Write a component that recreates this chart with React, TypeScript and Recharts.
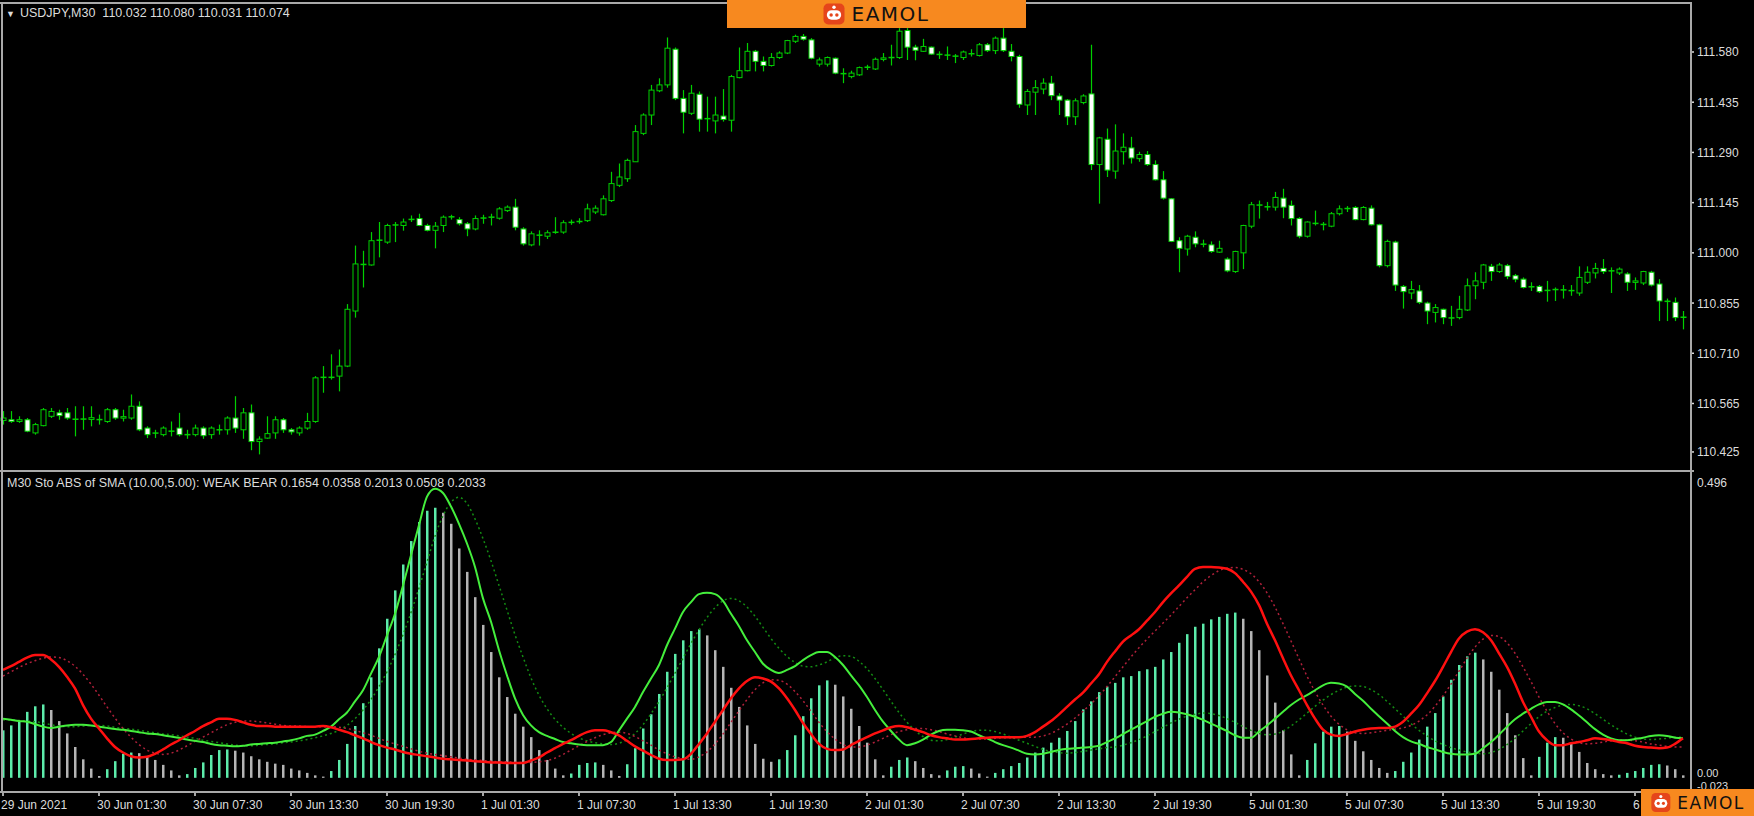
import { Bar, Cell, ComposedChart, Line, XAxis, YAxis } from 'recharts'

// USDJPY M30 candles, [open, high, low, close]
const OHLC: [number, number, number, number][] = [
  [110.516, 110.543, 110.504, 110.523], [110.518, 110.543, 110.509, 110.513], [110.513, 110.528, 110.509, 110.518], [110.518, 110.523, 110.482, 110.485],
  [110.480, 110.509, 110.475, 110.504], [110.501, 110.552, 110.499, 110.547], [110.528, 110.552, 110.523, 110.542], [110.538, 110.547, 110.518, 110.530],
  [110.538, 110.552, 110.518, 110.523], [110.518, 110.557, 110.470, 110.521], [110.521, 110.557, 110.489, 110.519], [110.519, 110.557, 110.499, 110.524],
  [110.520, 110.533, 110.504, 110.517], [110.513, 110.552, 110.509, 110.547], [110.547, 110.552, 110.518, 110.523], [110.523, 110.547, 110.513, 110.527],
  [110.523, 110.591, 110.518, 110.557], [110.557, 110.571, 110.485, 110.489], [110.494, 110.499, 110.465, 110.475], [110.478, 110.489, 110.465, 110.481],
  [110.475, 110.499, 110.470, 110.494], [110.486, 110.513, 110.470, 110.484], [110.494, 110.538, 110.470, 110.475], [110.474, 110.489, 110.463, 110.476],
  [110.475, 110.504, 110.470, 110.494], [110.494, 110.499, 110.463, 110.472], [110.475, 110.499, 110.463, 110.494], [110.490, 110.504, 110.475, 110.488],
  [110.489, 110.528, 110.475, 110.523], [110.523, 110.586, 110.480, 110.494], [110.489, 110.552, 110.463, 110.538], [110.538, 110.562, 110.430, 110.455],
  [110.455, 110.470, 110.418, 110.462], [110.465, 110.528, 110.463, 110.478], [110.480, 110.528, 110.463, 110.518], [110.518, 110.523, 110.480, 110.489],
  [110.489, 110.494, 110.475, 110.483], [110.480, 110.499, 110.472, 110.494], [110.494, 110.538, 110.489, 110.513], [110.513, 110.644, 110.509, 110.639],
  [110.639, 110.673, 110.596, 110.642], [110.642, 110.707, 110.634, 110.639], [110.644, 110.721, 110.600, 110.673], [110.673, 110.852, 110.670, 110.837],
  [110.832, 111.021, 110.813, 110.968], [110.968, 111.006, 110.900, 110.965], [110.965, 111.060, 110.963, 111.035], [111.035, 111.089, 110.987, 111.038],
  [111.031, 111.084, 111.026, 111.079], [111.079, 111.089, 111.031, 111.082], [111.079, 111.099, 111.064, 111.089], [111.095, 111.108, 111.089, 111.098],
  [111.099, 111.113, 111.077, 111.079], [111.079, 111.084, 111.062, 111.065], [111.065, 111.089, 111.013, 111.077], [111.079, 111.108, 111.060, 111.103],
  [111.103, 111.110, 111.096, 111.105], [111.096, 111.103, 111.079, 111.084], [111.084, 111.089, 111.048, 111.069], [111.069, 111.108, 111.065, 111.099],
  [111.099, 111.110, 111.084, 111.102], [111.102, 111.113, 111.079, 111.104], [111.100, 111.132, 111.096, 111.127], [111.122, 111.137, 111.118, 111.132],
  [111.132, 111.156, 111.065, 111.074], [111.069, 111.074, 111.021, 111.026], [111.023, 111.062, 111.019, 111.055], [111.052, 111.065, 111.021, 111.050],
  [111.048, 111.065, 111.040, 111.058], [111.058, 111.103, 111.055, 111.061], [111.060, 111.094, 111.055, 111.087], [111.087, 111.096, 111.081, 111.089],
  [111.089, 111.100, 111.084, 111.092], [111.093, 111.142, 111.089, 111.127], [111.118, 111.137, 111.112, 111.129], [111.110, 111.166, 111.108, 111.156],
  [111.151, 111.234, 111.147, 111.200], [111.195, 111.258, 111.190, 111.219], [111.214, 111.272, 111.205, 111.267], [111.263, 111.369, 111.263, 111.350],
  [111.345, 111.403, 111.340, 111.398], [111.398, 111.485, 111.369, 111.470], [111.468, 111.504, 111.464, 111.485], [111.485, 111.622, 111.477, 111.591],
  [111.588, 111.593, 111.441, 111.446], [111.446, 111.470, 111.345, 111.406], [111.403, 111.485, 111.398, 111.461], [111.458, 111.466, 111.350, 111.386],
  [111.386, 111.451, 111.350, 111.389], [111.381, 111.451, 111.345, 111.398], [111.395, 111.473, 111.379, 111.385], [111.383, 111.514, 111.350, 111.509],
  [111.506, 111.593, 111.504, 111.526], [111.526, 111.606, 111.524, 111.582], [111.582, 111.586, 111.524, 111.553], [111.553, 111.567, 111.524, 111.541],
  [111.541, 111.577, 111.538, 111.564], [111.564, 111.582, 111.560, 111.577], [111.577, 111.615, 111.574, 111.613], [111.611, 111.630, 111.606, 111.625],
  [111.625, 111.632, 111.613, 111.617], [111.615, 111.620, 111.559, 111.562], [111.545, 111.564, 111.538, 111.557], [111.545, 111.567, 111.538, 111.564],
  [111.562, 111.564, 111.516, 111.519], [111.519, 111.533, 111.490, 111.516], [111.509, 111.526, 111.504, 111.519], [111.514, 111.538, 111.511, 111.535],
  [111.535, 111.543, 111.528, 111.537], [111.531, 111.564, 111.528, 111.559], [111.559, 111.577, 111.553, 111.563], [111.563, 111.601, 111.541, 111.565],
  [111.564, 111.649, 111.560, 111.640], [111.642, 111.649, 111.557, 111.594], [111.594, 111.601, 111.556, 111.585], [111.582, 111.618, 111.580, 111.596],
  [111.594, 111.596, 111.572, 111.574], [111.574, 111.582, 111.560, 111.572], [111.572, 111.596, 111.557, 111.570], [111.569, 111.574, 111.548, 111.567],
  [111.564, 111.584, 111.557, 111.580], [111.576, 111.588, 111.567, 111.574], [111.570, 111.606, 111.567, 111.601], [111.601, 111.606, 111.580, 111.584],
  [111.584, 111.625, 111.574, 111.620], [111.620, 111.649, 111.580, 111.584], [111.582, 111.603, 111.553, 111.567], [111.567, 111.572, 111.419, 111.429],
  [111.427, 111.473, 111.398, 111.466], [111.464, 111.499, 111.398, 111.477], [111.473, 111.504, 111.458, 111.490], [111.490, 111.511, 111.441, 111.454],
  [111.453, 111.461, 111.398, 111.441], [111.441, 111.444, 111.369, 111.393], [111.393, 111.446, 111.369, 111.439], [111.434, 111.458, 111.429, 111.453],
  [111.459, 111.601, 111.239, 111.255], [111.255, 111.335, 111.142, 111.332], [111.328, 111.359, 111.219, 111.239], [111.236, 111.371, 111.214, 111.294],
  [111.292, 111.345, 111.255, 111.305], [111.303, 111.335, 111.258, 111.274], [111.272, 111.292, 111.263, 111.284], [111.284, 111.294, 111.251, 111.255],
  [111.255, 111.267, 111.209, 111.211], [111.211, 111.236, 111.154, 111.158], [111.156, 111.158, 111.031, 111.033], [111.035, 111.045, 110.944, 111.013],
  [111.011, 111.052, 110.992, 111.048], [111.045, 111.062, 111.016, 111.026], [111.026, 111.038, 111.016, 111.024], [111.023, 111.033, 111.000, 111.004],
  [111.002, 111.035, 111.000, 111.013], [110.982, 110.987, 110.944, 110.948], [110.946, 111.006, 110.942, 111.004], [111.000, 111.081, 110.953, 111.079],
  [111.077, 111.147, 111.071, 111.139], [111.139, 111.151, 111.099, 111.137], [111.134, 111.147, 111.122, 111.132], [111.132, 111.176, 111.122, 111.160],
  [111.158, 111.185, 111.100, 111.132], [111.137, 111.151, 111.079, 111.099], [111.099, 111.103, 111.042, 111.048], [111.048, 111.091, 111.044, 111.089],
  [111.086, 111.122, 111.079, 111.084], [111.083, 111.089, 111.065, 111.081], [111.077, 111.118, 111.074, 111.113], [111.113, 111.137, 111.108, 111.127],
  [111.127, 111.135, 111.118, 111.129], [111.131, 111.135, 111.094, 111.096], [111.096, 111.135, 111.094, 111.131], [111.129, 111.137, 111.079, 111.081],
  [111.081, 111.084, 110.958, 110.963], [110.963, 111.038, 110.958, 111.033], [111.031, 111.035, 110.890, 110.907], [110.903, 110.907, 110.839, 110.888],
  [110.884, 110.919, 110.866, 110.894], [110.890, 110.907, 110.852, 110.857], [110.855, 110.859, 110.794, 110.832], [110.828, 110.852, 110.799, 110.842],
  [110.837, 110.839, 110.794, 110.813], [110.813, 110.847, 110.789, 110.811], [110.813, 110.876, 110.808, 110.837], [110.835, 110.926, 110.832, 110.905],
  [110.905, 110.944, 110.866, 110.919], [110.915, 110.968, 110.895, 110.965], [110.961, 110.968, 110.919, 110.946], [110.946, 110.971, 110.942, 110.965],
  [110.963, 110.968, 110.924, 110.932], [110.934, 110.939, 110.915, 110.924], [110.924, 110.929, 110.897, 110.900], [110.901, 110.915, 110.890, 110.903],
  [110.903, 110.907, 110.884, 110.888], [110.890, 110.919, 110.859, 110.893], [110.893, 110.900, 110.861, 110.895], [110.894, 110.907, 110.868, 110.892],
  [110.892, 110.907, 110.876, 110.890], [110.884, 110.961, 110.876, 110.929], [110.915, 110.961, 110.910, 110.944], [110.942, 110.971, 110.926, 110.955],
  [110.955, 110.982, 110.939, 110.946], [110.947, 110.958, 110.884, 110.949], [110.942, 110.958, 110.936, 110.953], [110.939, 110.944, 110.890, 110.915],
  [110.915, 110.929, 110.893, 110.919], [110.913, 110.948, 110.907, 110.946], [110.944, 110.948, 110.903, 110.907], [110.910, 110.924, 110.803, 110.861],
  [110.861, 110.868, 110.803, 110.859], [110.857, 110.871, 110.803, 110.813], [110.813, 110.832, 110.779, 110.815],
]

// Sto ABS of SMA indicator
const HIST = [
  0.077, 0.085, 0.091, 0.107, 0.116, 0.119, 0.110, 0.092, 0.072, 0.050,
  0.030, 0.015, 0.003, 0.014, 0.027, 0.039, 0.041, 0.040, 0.035, 0.029,
  0.021, 0.012, 0.004, 0.006, 0.016, 0.025, 0.037, 0.045, 0.046, 0.044,
  0.041, 0.035, 0.030, 0.026, 0.023, 0.021, 0.015, 0.012, 0.008, 0.004,
  0.002, 0.011, 0.029, 0.055, 0.084, 0.121, 0.163, 0.210, 0.258, 0.304,
  0.346, 0.384, 0.415, 0.433, 0.438, 0.430, 0.412, 0.372, 0.334, 0.293,
  0.248, 0.204, 0.163, 0.131, 0.104, 0.083, 0.066, 0.045, 0.029, 0.015,
  0.004, 0.007, 0.021, 0.024, 0.025, 0.021, 0.012, 0.003, 0.022, 0.048,
  0.080, 0.103, 0.136, 0.172, 0.201, 0.223, 0.238, 0.241, 0.231, 0.207,
  0.180, 0.146, 0.115, 0.085, 0.055, 0.031, 0.026, 0.030, 0.045, 0.069,
  0.100, 0.129, 0.150, 0.158, 0.151, 0.132, 0.112, 0.084, 0.057, 0.030,
  0.004, 0.018, 0.029, 0.033, 0.027, 0.016, 0.006, 0.004, 0.012, 0.018,
  0.019, 0.015, 0.007, 0.002, 0.008, 0.014, 0.019, 0.024, 0.033, 0.041,
  0.049, 0.057, 0.065, 0.076, 0.092, 0.111, 0.124, 0.139, 0.148, 0.154,
  0.163, 0.165, 0.173, 0.176, 0.180, 0.192, 0.204, 0.219, 0.233, 0.245,
  0.250, 0.257, 0.261, 0.266, 0.268, 0.258, 0.238, 0.207, 0.166, 0.122,
  0.077, 0.038, 0.004, 0.029, 0.056, 0.075, 0.083, 0.084, 0.075, 0.060,
  0.043, 0.029, 0.016, 0.008, 0.011, 0.026, 0.041, 0.062, 0.083, 0.105,
  0.132, 0.159, 0.183, 0.197, 0.203, 0.192, 0.172, 0.143, 0.105, 0.069,
  0.032, 0.004, 0.034, 0.057, 0.066, 0.065, 0.057, 0.042, 0.024, 0.014,
  0.006, 0.004, 0.005, 0.008, 0.011, 0.016, 0.021, 0.022, 0.020, 0.014,
  0.004,
]

const BULL_LINE = [
  0.096, 0.094, 0.092, 0.091, 0.087, 0.083, 0.081, 0.083, 0.085, 0.086,
  0.086, 0.085, 0.083, 0.081, 0.079, 0.078, 0.076, 0.074, 0.072, 0.071,
  0.069, 0.067, 0.065, 0.062, 0.060, 0.058, 0.055, 0.053, 0.052, 0.051,
  0.052, 0.054, 0.055, 0.056, 0.057, 0.059, 0.061, 0.064, 0.068, 0.070,
  0.076, 0.083, 0.095, 0.106, 0.124, 0.142, 0.169, 0.196, 0.231, 0.266,
  0.312, 0.361, 0.410, 0.456, 0.469, 0.462, 0.440, 0.412, 0.380, 0.342,
  0.291, 0.253, 0.207, 0.166, 0.129, 0.102, 0.085, 0.074, 0.068, 0.063,
  0.058, 0.056, 0.054, 0.053, 0.053, 0.053, 0.058, 0.077, 0.096, 0.115,
  0.139, 0.161, 0.183, 0.215, 0.242, 0.269, 0.285, 0.298, 0.300, 0.298,
  0.287, 0.266, 0.246, 0.223, 0.204, 0.185, 0.175, 0.170, 0.175, 0.181,
  0.191, 0.199, 0.204, 0.204, 0.196, 0.183, 0.166, 0.150, 0.131, 0.110,
  0.091, 0.076, 0.062, 0.053, 0.056, 0.062, 0.070, 0.076, 0.078, 0.078,
  0.077, 0.075, 0.069, 0.064, 0.058, 0.053, 0.049, 0.044, 0.039, 0.038,
  0.039, 0.042, 0.045, 0.047, 0.048, 0.049, 0.050, 0.052, 0.058, 0.064,
  0.071, 0.078, 0.085, 0.092, 0.099, 0.104, 0.107, 0.106, 0.103, 0.099,
  0.094, 0.088, 0.082, 0.076, 0.069, 0.065, 0.065, 0.075, 0.085, 0.096,
  0.107, 0.118, 0.127, 0.134, 0.142, 0.150, 0.154, 0.153, 0.148, 0.136,
  0.125, 0.112, 0.100, 0.088, 0.076, 0.066, 0.059, 0.055, 0.050, 0.046,
  0.042, 0.039, 0.038, 0.038, 0.039, 0.048, 0.058, 0.070, 0.083, 0.095,
  0.104, 0.112, 0.119, 0.123, 0.123, 0.119, 0.111, 0.101, 0.090, 0.079,
  0.070, 0.064, 0.061, 0.061, 0.063, 0.065, 0.068, 0.069, 0.068, 0.065,
  0.064,
]

const BEAR_LINE = [
  0.175, 0.181, 0.188, 0.195, 0.199, 0.199, 0.192, 0.180, 0.164, 0.145,
  0.118, 0.096, 0.080, 0.064, 0.050, 0.041, 0.035, 0.033, 0.034, 0.039,
  0.046, 0.054, 0.061, 0.069, 0.076, 0.084, 0.090, 0.096, 0.096, 0.094,
  0.090, 0.086, 0.084, 0.084, 0.083, 0.083, 0.083, 0.083, 0.083, 0.083,
  0.084, 0.082, 0.078, 0.074, 0.069, 0.064, 0.058, 0.053, 0.049, 0.046,
  0.042, 0.039, 0.037, 0.035, 0.033, 0.031, 0.030, 0.029, 0.028, 0.027,
  0.026, 0.025, 0.025, 0.024, 0.024, 0.024, 0.028, 0.033, 0.041, 0.048,
  0.055, 0.061, 0.068, 0.074, 0.077, 0.077, 0.074, 0.069, 0.060, 0.051,
  0.044, 0.037, 0.031, 0.029, 0.029, 0.030, 0.039, 0.055, 0.072, 0.091,
  0.110, 0.129, 0.145, 0.157, 0.163, 0.161, 0.156, 0.145, 0.129, 0.110,
  0.089, 0.071, 0.055, 0.047, 0.045, 0.046, 0.053, 0.060, 0.066, 0.072,
  0.077, 0.082, 0.084, 0.082, 0.078, 0.074, 0.069, 0.066, 0.064, 0.062,
  0.062, 0.063, 0.064, 0.065, 0.066, 0.066, 0.066, 0.066, 0.068, 0.074,
  0.083, 0.092, 0.103, 0.115, 0.127, 0.138, 0.153, 0.168, 0.188, 0.205,
  0.221, 0.231, 0.241, 0.255, 0.269, 0.285, 0.299, 0.312, 0.326, 0.339,
  0.342, 0.342, 0.341, 0.339, 0.332, 0.318, 0.302, 0.280, 0.250, 0.223,
  0.194, 0.166, 0.142, 0.118, 0.096, 0.078, 0.070, 0.068, 0.071, 0.075,
  0.078, 0.080, 0.081, 0.081, 0.083, 0.091, 0.104, 0.118, 0.137, 0.157,
  0.180, 0.204, 0.226, 0.237, 0.241, 0.236, 0.223, 0.202, 0.180, 0.153,
  0.123, 0.099, 0.075, 0.061, 0.053, 0.053, 0.056, 0.058, 0.061, 0.064,
  0.063, 0.061, 0.058, 0.056, 0.052, 0.050, 0.049, 0.048, 0.049, 0.055,
  0.064,
]

const BULL_SIGNAL = [
  0.094, 0.094, 0.093, 0.092, 0.091, 0.089, 0.086, 0.084, 0.083, 0.083,
  0.084, 0.085, 0.085, 0.084, 0.082, 0.080, 0.079, 0.077, 0.075, 0.073,
  0.071, 0.070, 0.068, 0.066, 0.064, 0.061, 0.059, 0.057, 0.055, 0.053,
  0.052, 0.052, 0.053, 0.054, 0.055, 0.057, 0.058, 0.060, 0.062, 0.065,
  0.068, 0.072, 0.077, 0.085, 0.096, 0.110, 0.127, 0.148, 0.172, 0.200,
  0.232, 0.268, 0.308, 0.350, 0.392, 0.425, 0.447, 0.455, 0.445, 0.420,
  0.388, 0.352, 0.312, 0.272, 0.232, 0.196, 0.162, 0.134, 0.112, 0.095,
  0.082, 0.072, 0.065, 0.060, 0.057, 0.055, 0.054, 0.056, 0.062, 0.072,
  0.086, 0.104, 0.124, 0.146, 0.170, 0.194, 0.218, 0.240, 0.260, 0.276,
  0.287, 0.291, 0.287, 0.277, 0.262, 0.244, 0.226, 0.210, 0.197, 0.187,
  0.181, 0.180, 0.183, 0.188, 0.195, 0.198, 0.197, 0.189, 0.177, 0.161,
  0.143, 0.124, 0.106, 0.090, 0.077, 0.067, 0.061, 0.060, 0.062, 0.066,
  0.071, 0.075, 0.077, 0.077, 0.075, 0.071, 0.066, 0.061, 0.056, 0.051,
  0.046, 0.043, 0.041, 0.040, 0.041, 0.043, 0.045, 0.047, 0.049, 0.050,
  0.053, 0.057, 0.062, 0.068, 0.075, 0.082, 0.089, 0.095, 0.100, 0.103,
  0.105, 0.104, 0.101, 0.096, 0.090, 0.083, 0.077, 0.072, 0.070, 0.071,
  0.076, 0.084, 0.094, 0.105, 0.116, 0.126, 0.135, 0.142, 0.147, 0.149,
  0.148, 0.143, 0.135, 0.124, 0.112, 0.100, 0.088, 0.077, 0.068, 0.060,
  0.054, 0.049, 0.045, 0.042, 0.040, 0.039, 0.041, 0.046, 0.054, 0.064,
  0.076, 0.088, 0.099, 0.108, 0.114, 0.118, 0.119, 0.117, 0.112, 0.104,
  0.095, 0.086, 0.078, 0.071, 0.066, 0.063, 0.062, 0.063, 0.064, 0.066,
  0.066,
]

const BEAR_SIGNAL = [
  0.165, 0.172, 0.179, 0.185, 0.190, 0.194, 0.196, 0.195, 0.190, 0.181,
  0.168, 0.152, 0.134, 0.115, 0.097, 0.080, 0.066, 0.054, 0.045, 0.040,
  0.038, 0.040, 0.045, 0.052, 0.059, 0.066, 0.073, 0.080, 0.086, 0.090,
  0.092, 0.092, 0.091, 0.089, 0.087, 0.085, 0.084, 0.084, 0.083, 0.083,
  0.083, 0.083, 0.082, 0.080, 0.077, 0.073, 0.069, 0.064, 0.059, 0.055,
  0.051, 0.047, 0.043, 0.040, 0.038, 0.036, 0.034, 0.032, 0.030, 0.029,
  0.028, 0.027, 0.026, 0.026, 0.025, 0.025, 0.025, 0.026, 0.028, 0.032,
  0.038, 0.045, 0.052, 0.059, 0.065, 0.070, 0.073, 0.074, 0.072, 0.067,
  0.060, 0.053, 0.045, 0.039, 0.034, 0.031, 0.030, 0.034, 0.042, 0.055,
  0.071, 0.090, 0.109, 0.127, 0.143, 0.154, 0.159, 0.158, 0.152, 0.140,
  0.125, 0.108, 0.090, 0.075, 0.063, 0.054, 0.050, 0.050, 0.053, 0.058,
  0.064, 0.070, 0.075, 0.078, 0.080, 0.080, 0.078, 0.075, 0.071, 0.068,
  0.065, 0.063, 0.063, 0.063, 0.064, 0.065, 0.065, 0.066, 0.066, 0.066,
  0.068, 0.072, 0.079, 0.087, 0.097, 0.108, 0.120, 0.133, 0.148, 0.164,
  0.180, 0.196, 0.211, 0.225, 0.238, 0.251, 0.264, 0.278, 0.292, 0.305,
  0.318, 0.328, 0.336, 0.340, 0.341, 0.338, 0.331, 0.318, 0.300, 0.277,
  0.250, 0.222, 0.193, 0.165, 0.140, 0.118, 0.100, 0.087, 0.078, 0.073,
  0.072, 0.073, 0.075, 0.077, 0.079, 0.081, 0.085, 0.092, 0.102, 0.116,
  0.133, 0.152, 0.173, 0.194, 0.212, 0.225, 0.231, 0.229, 0.219, 0.202,
  0.180, 0.156, 0.131, 0.108, 0.088, 0.073, 0.063, 0.057, 0.055, 0.056,
  0.058, 0.060, 0.061, 0.061, 0.060, 0.058, 0.055, 0.053, 0.051, 0.050,
  0.050,
]

// one label every 12 bars (6 hours)
const TIME_LABELS = [
  '29 Jun 2021', '30 Jun 01:30', '30 Jun 07:30', '30 Jun 13:30', '30 Jun 19:30',
  '1 Jul 01:30', '1 Jul 07:30', '1 Jul 13:30', '1 Jul 19:30', '2 Jul 01:30',
  '2 Jul 07:30', '2 Jul 13:30', '2 Jul 19:30', '5 Jul 01:30', '5 Jul 07:30',
  '5 Jul 13:30', '5 Jul 19:30', '6 Jul 01:30',
]
const PRICE_TICKS = [110.425, 110.565, 110.71, 110.855, 111.0, 111.145, 111.29, 111.435, 111.58]
const IND_TICKS = [0.496, 0, -0.023]

const FONT = '"Liberation Sans", Arial, sans-serif'
const TEXT = '#dcdcdc'
const FRAME = '#a9a9a9'
const CANDLE = '#00d000'
const MINT = '#5cebaa'
const GRAY = '#b4b4b4'

const candleRows = OHLC.map(([o, h, l, c], i) => ({ i, o, h, l, c, range: [l, h] }))
const indRows = HIST.map((hist, i) => ({
  i,
  hist,
  bull: BULL_LINE[i],
  bear: BEAR_LINE[i],
  bullSig: BULL_SIGNAL[i],
  bearSig: BEAR_SIGNAL[i],
}))

function Candle(props: any) {
  const { x, y, width, height, payload } = props
  if (!payload) return null
  const { o, h, l, c } = payload
  const top = Math.min(y, y + height)
  const bottom = Math.max(y, y + height)
  const k = h > l ? (bottom - top) / (h - l) : 0
  const py = (v: number) => top + (h - v) * k
  const cx = Math.round(x + width / 2) + 0.5
  const y1 = Math.min(py(o), py(c))
  const y2 = Math.max(py(o), py(c))
  const bull = c >= o
  return (
    <g>
      <line x1={cx} x2={cx} y1={top} y2={bottom} stroke={CANDLE} strokeWidth={1.2} />
      {y2 - y1 < 1.2 ? (
        <line x1={cx - 3} x2={cx + 3} y1={(y1 + y2) / 2} y2={(y1 + y2) / 2} stroke={CANDLE} strokeWidth={1.5} />
      ) : (
        <rect
          x={cx - 2.5}
          y={y1}
          width={5}
          height={Math.max(y2 - y1, 1.5)}
          fill={bull ? '#000' : '#fff'}
          stroke={CANDLE}
          strokeWidth={1}
        />
      )}
    </g>
  )
}

function PriceTick({ y, payload }: any) {
  return (
    <g>
      <line x1={1692} x2={1695} y1={y} y2={y} stroke={TEXT} strokeWidth={1.5} />
      <text x={1698} y={y} dy={4.5} fill={TEXT} fontSize={12} fontFamily={FONT}>
        {payload.value.toFixed(3)}
      </text>
    </g>
  )
}

function IndTick({ y, payload }: any) {
  const v = payload.value
  const label = v === 0 ? '0.00' : String(v)
  const dy = v > 0.4 ? 15 : v < 0 ? -2 : -1
  return (
    <text x={1698} y={y} dy={dy} fill={TEXT} fontSize={v > 0.4 ? 12 : 11} fontFamily={FONT}>
      {label}
    </text>
  )
}

function TimeTick({ x, payload }: any) {
  const label = TIME_LABELS[Math.round(payload.value / 12)]
  if (!label) return null
  return (
    <g>
      <line x1={x} x2={x} y1={320} y2={324} stroke={TEXT} strokeWidth={1.5} />
      <text x={x - 2} y={337} fill={TEXT} fontSize={12} fontFamily={FONT}>
        {label}
      </text>
    </g>
  )
}

function Logo({ left, top, width, height, icon, text }: any) {
  const textW = text * 3.9
  const gap = 7
  const total = icon + gap + textW
  const x0 = (width - total) / 2
  return (
    <svg style={{ position: 'absolute', left, top }} width={width} height={height}>
      <rect x={0} y={0} width={width} height={height} fill="#f7891f" />
      <g transform={`translate(${x0}, ${(height - icon) / 2}) scale(${icon / 22})`}>
        <rect x={0} y={0} width={22} height={22} rx={5} fill="#e5451b" />
        <circle cx={11} cy={4} r={1.8} fill="#fff" />
        <rect x={3.5} y={7} width={15} height={10} rx={5} fill="#fff" />
        <circle cx={8} cy={12} r={1.8} fill="#e5451b" />
        <circle cx={14} cy={12} r={1.8} fill="#e5451b" />
      </g>
      <text
        x={x0 + icon + gap}
        y={height / 2}
        dy={text * 0.36}
        fill="#111"
        fontSize={text}
        fontFamily='"DejaVu Sans", sans-serif'
        letterSpacing={1.5}
      >
        EAMOL
      </text>
    </svg>
  )
}

export default function App() {
  return (
    <div style={{ position: 'absolute', left: 0, top: 0, width: 1754, height: 816, background: '#000', overflow: 'hidden' }}>
      <div style={{ position: 'absolute', left: -1, top: 0 }}>
        <ComposedChart width={1755} height={472} data={candleRows} margin={{ top: 3, right: 0, bottom: 1, left: 0 }}>
          <XAxis dataKey="i" hide />
          <YAxis
            orientation="right"
            width={67}
            domain={[110.37, 111.7215]}
            allowDataOverflow
            ticks={PRICE_TICKS}
            interval={0}
            axisLine={false}
            tickLine={false}
            tick={<PriceTick />}
          />
          <Bar dataKey="range" shape={<Candle />} isAnimationActive={false} />
        </ComposedChart>
      </div>

      <div style={{ position: 'absolute', left: -1, top: 472 }}>
        <ComposedChart width={1755} height={344} data={indRows} margin={{ top: 0, right: 0, bottom: 0, left: 0 }}>
          <XAxis dataKey="i" height={24} interval={11} axisLine={false} tickLine={false} tick={<TimeTick />} />
          <YAxis
            orientation="right"
            width={67}
            domain={[-0.023, 0.496]}
            allowDataOverflow
            ticks={IND_TICKS}
            interval={0}
            axisLine={false}
            tickLine={false}
            tick={<IndTick />}
          />
          <Bar dataKey="hist" barSize={2.5} isAnimationActive={false}>
            {indRows.map((r, i) => (
              <Cell key={i} fill={i === 0 || r.hist >= indRows[i - 1].hist ? MINT : GRAY} />
            ))}
          </Bar>
          <Line dataKey="bullSig" type="monotone" stroke="#138c13" strokeWidth={1.5} strokeDasharray="2 3" dot={false} isAnimationActive={false} />
          <Line dataKey="bearSig" type="monotone" stroke="#b0203a" strokeWidth={1.5} strokeDasharray="2 3" dot={false} isAnimationActive={false} />
          <Line dataKey="bull" type="monotone" stroke="#44ee3c" strokeWidth={2} dot={false} isAnimationActive={false} />
          <Line dataKey="bear" type="monotone" stroke="#ff1010" strokeWidth={2.5} dot={false} isAnimationActive={false} />
        </ComposedChart>
      </div>

      {/* window frame */}
      <div style={{ position: 'absolute', left: 0, top: 2, width: 1692, height: 2, background: FRAME }} />
      <div style={{ position: 'absolute', left: 1, top: 2, width: 2, height: 791, background: FRAME }} />
      <div style={{ position: 'absolute', left: 1690, top: 2, width: 2, height: 791, background: FRAME }} />
      <div style={{ position: 'absolute', left: 0, top: 470, width: 1694, height: 2, background: FRAME }} />
      <div style={{ position: 'absolute', left: 0, top: 791, width: 1692, height: 2, background: FRAME }} />

      <div style={{ position: 'absolute', left: 6, top: 6, fontFamily: FONT, fontSize: 12.5, color: TEXT, whiteSpace: 'pre' }}>
        <span style={{ fontSize: 9, marginRight: 5 }}>▼</span>USDJPY,M30  110.032 110.080 110.031 110.074
      </div>
      <div style={{ position: 'absolute', left: 7, top: 476, fontFamily: FONT, fontSize: 12.5, color: TEXT, whiteSpace: 'pre' }}>
        M30 Sto ABS of SMA (10.00,5.00): WEAK BEAR 0.1654 0.0358 0.2013 0.0508 0.2033
      </div>

      <Logo left={727} top={0} width={299} height={28} icon={21} text={20} />
      <Logo left={1641} top={789} width={113} height={27} icon={19} text={17} />
    </div>
  )
}
